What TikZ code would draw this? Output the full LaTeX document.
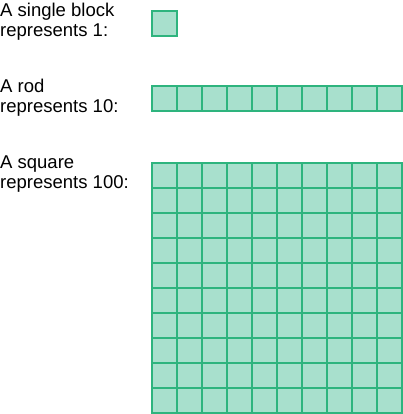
\documentclass[tikz,border=0pt]{standalone}
\usepackage{fontspec}
\setmainfont{Liberation Sans}
\definecolor{blockfill}{RGB}{168,224,205}
\definecolor{blockline}{RGB}{46,180,126}
\begin{document}
\begin{tikzpicture}[x=1pt,y=-1pt,
  lbl/.style={anchor=base west, inner sep=0pt, font=\fontsize{18.5}{20}\selectfont},
  cell/.style={draw=blockline, fill=blockfill, line width=2pt}]
\useasboundingbox (0,0) rectangle (403,414);
% labels
\node[lbl] (l1a) at (0,16.5) {A single block};
\node[lbl] (l1b) at (0,36.5) {represents 1:};
\node[lbl] (l2a) at (0,92.5) {A rod};
\node[lbl] (l2b) at (0,112.5) {represents 10:};
\node[lbl] (l3a) at (0,168) {A square};
\node[lbl] (l3b) at (0,188) {represents 100:};
% single block
\draw[cell] (152,11) rectangle (177,36);
% rod
\draw[cell] (152,86.5) rectangle (402,111.5);
\foreach \i in {1,...,9} \draw[blockline, line width=2pt] (152+25*\i,86.5) -- (152+25*\i,111.5);
% square
\draw[cell] (152,162.5) rectangle (402,412.5);
\foreach \i in {1,...,9} {
  \draw[blockline, line width=2pt] (152+25*\i,162.5) -- (152+25*\i,412.5);
  \draw[blockline, line width=2pt] (152,162.5+25*\i) -- (402,162.5+25*\i);
}
\end{tikzpicture}
\end{document}
